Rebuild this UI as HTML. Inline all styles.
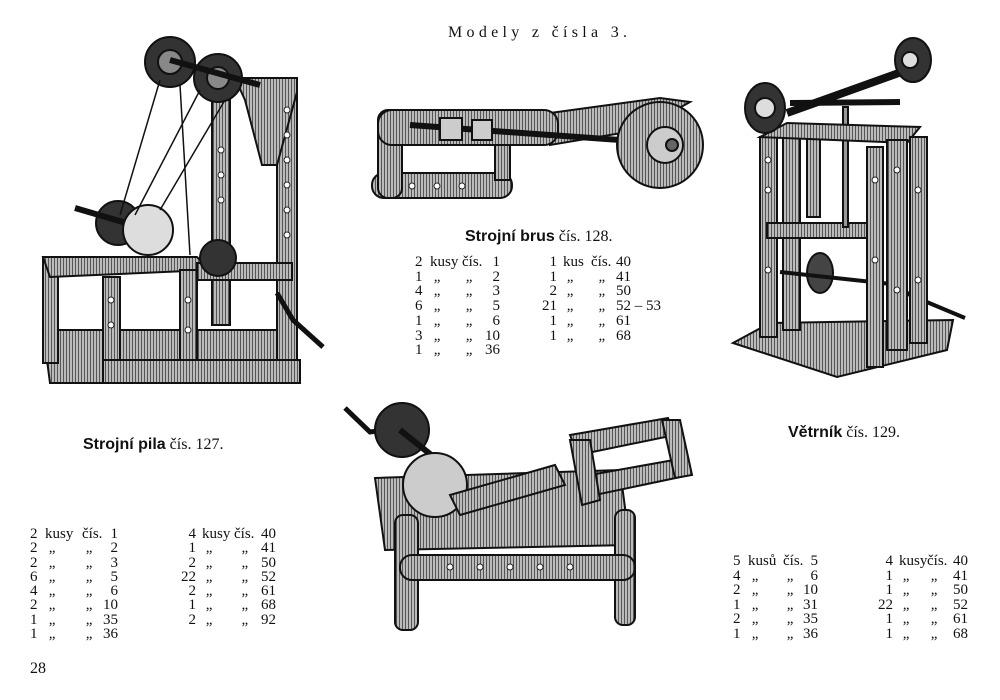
<!DOCTYPE html>
<html><head><meta charset="utf-8"><style>
html,body{margin:0;padding:0;background:#fff}
#p{position:relative;width:1000px;height:700px;overflow:hidden;background:#fff;font-family:"Liberation Serif",serif;color:#111}
.t{position:absolute;font-size:15px;line-height:15px;white-space:nowrap}
.r{text-align:right}
svg{position:absolute;left:0;top:0}
</style></head><body><div id="p">
<svg width="1000" height="700" viewBox="0 0 1000 700">
<defs>
<pattern id="h" width="3" height="3" patternUnits="userSpaceOnUse"><rect width="3" height="3" fill="#bbb"/><rect width="1" height="3" fill="#555"/></pattern>
</defs>
<g stroke="#111" stroke-width="2" fill="url(#h)">
<polygon points="43,330 293,330 300,383 50,383"/>
<rect x="43" y="257" width="15" height="106"/>
<polygon points="43,257 197,257 210,270 50,277"/>
<rect x="212" y="100" width="18" height="225"/>
<rect x="277" y="80" width="20" height="290"/>
<polygon points="235,78 297,78 297,92 277,165 262,165 245,100"/>
<rect x="197" y="263" width="95" height="17"/>
<rect x="103" y="277" width="17" height="106"/>
<rect x="180" y="270" width="17" height="107"/>
<rect x="103" y="360" width="197" height="23"/>
<circle cx="170" cy="62" r="25" fill="#333"/><circle cx="170" cy="62" r="12" fill="#888"/>
<circle cx="218" cy="78" r="24" fill="#333"/><circle cx="218" cy="78" r="11" fill="#888"/>
<line x1="170" y1="60" x2="260" y2="85" stroke-width="6"/>
<circle cx="118" cy="223" r="22" fill="#333"/>
<line x1="75" y1="208" x2="150" y2="230" stroke-width="6"/>
<circle cx="148" cy="230" r="25" fill="#ddd"/>
<circle cx="218" cy="258" r="18" fill="#333"/>
<polyline points="277,293 293,320 323,347" fill="none" stroke-width="5"/>
<g stroke-width="1.5" fill="none"><line x1="160" y1="80" x2="120" y2="215"/><line x1="180" y1="85" x2="190" y2="255"/><line x1="225" y1="100" x2="160" y2="210"/><line x1="200" y1="90" x2="135" y2="215"/></g>
<rect x="372" y="173" width="140" height="25" rx="12"/>
<rect x="378" y="110" width="24" height="88" rx="10"/>
<rect x="495" y="130" width="15" height="50"/>
<polygon points="550,113 660,98 690,102 640,130 550,145"/>
<rect x="378" y="110" width="180" height="35" rx="14"/>
<line x1="410" y1="125" x2="620" y2="140" stroke-width="6"/>
<rect x="440" y="118" width="22" height="22" fill="#ccc"/><rect x="472" y="120" width="20" height="20" fill="#ccc"/>
<circle cx="660" cy="145" r="43"/><circle cx="665" cy="145" r="18" fill="#ccc"/><circle cx="672" cy="145" r="6" fill="#666"/>
<polygon points="733,343 770,323 953,320 947,350 837,377"/>
<rect x="760" y="137" width="17" height="200"/>
<rect x="783" y="137" width="17" height="193"/>
<rect x="807" y="137" width="13" height="80"/>
<polygon points="767,223 880,223 880,238 767,238"/>
<rect x="843" y="107" width="5" height="120" fill="#999"/>
<polygon points="760,137 787,123 920,127 907,143"/>
<line x1="787" y1="113" x2="907" y2="70" stroke-width="8"/>
<line x1="790" y1="103" x2="900" y2="102" stroke-width="6"/>
<ellipse cx="765" cy="108" rx="20" ry="25" fill="#333"/><circle cx="765" cy="108" r="10" fill="#ddd"/>
<ellipse cx="913" cy="60" rx="18" ry="22" fill="#333"/><circle cx="910" cy="60" r="8" fill="#ddd"/>
<ellipse cx="820" cy="273" rx="13" ry="20" fill="#444"/>
<line x1="780" y1="272" x2="900" y2="285" stroke-width="4"/>
<polyline points="895,283 910,295 965,318" fill="none" stroke-width="4"/>
<rect x="867" y="147" width="16" height="220"/>
<rect x="887" y="140" width="20" height="210"/>
<rect x="910" y="137" width="17" height="206"/>
<polygon points="375,478 620,470 630,545 385,550"/>
<rect x="395" y="515" width="23" height="115" rx="8"/>
<rect x="615" y="510" width="20" height="115" rx="8"/>
<rect x="400" y="555" width="235" height="25" rx="12"/>
<polyline points="345,408 370,432 385,430" fill="none" stroke-width="5"/>
<circle cx="402" cy="430" r="27" fill="#333"/>
<line x1="400" y1="430" x2="450" y2="470" stroke-width="6"/>
<circle cx="435" cy="485" r="32" fill="#ccc"/>
<polygon points="450,495 555,465 565,485 460,515"/>
<polygon points="570,435 668,418 675,435 578,455"/>
<polygon points="590,475 685,458 690,475 595,495"/>
<polygon points="662,420 680,420 692,475 675,478"/>
<polygon points="570,440 590,440 600,500 582,505"/>
</g>
<g fill="#fff" stroke="#222" stroke-width="1">
<circle cx="287" cy="110" r="3"/><circle cx="287" cy="135" r="3"/><circle cx="287" cy="160" r="3"/><circle cx="287" cy="185" r="3"/><circle cx="287" cy="210" r="3"/><circle cx="287" cy="235" r="3"/>
<circle cx="221" cy="150" r="3"/><circle cx="221" cy="175" r="3"/><circle cx="221" cy="200" r="3"/>
<circle cx="111" cy="300" r="3"/><circle cx="111" cy="325" r="3"/><circle cx="188" cy="300" r="3"/><circle cx="188" cy="330" r="3"/>
<circle cx="412" cy="186" r="3"/><circle cx="437" cy="186" r="3"/><circle cx="462" cy="186" r="3"/>
<circle cx="768" cy="160" r="3"/><circle cx="768" cy="190" r="3"/><circle cx="768" cy="270" r="3"/><circle cx="875" cy="180" r="3"/><circle cx="875" cy="260" r="3"/><circle cx="897" cy="170" r="3"/><circle cx="897" cy="290" r="3"/><circle cx="918" cy="190" r="3"/><circle cx="918" cy="280" r="3"/>
<circle cx="450" cy="567" r="3"/><circle cx="480" cy="567" r="3"/><circle cx="510" cy="567" r="3"/><circle cx="540" cy="567" r="3"/><circle cx="570" cy="567" r="3"/>
</g>
</svg>
<div class="t" style="left:448px;top:25px;font-size:16px;letter-spacing:4.3px">Modely z čísla 3.</div>
<div class="t" style="left:465px;top:229px;font-size:16px"><b style="font-family:'Liberation Sans',sans-serif">Strojní brus</b> čís. 128.</div>
<div class="t" style="left:83px;top:437px;font-size:16px"><b style="font-family:'Liberation Sans',sans-serif">Strojní pila</b> čís. 127.</div>
<div class="t" style="left:788px;top:425px;font-size:16px"><b style="font-family:'Liberation Sans',sans-serif">Větrník</b> čís. 129.</div>
<div class="t" style="left:30px;top:661px;font-size:16px">28</div>

<div class="t" style="left:415px;top:255px;line-height:14.7px">2<br>1<br>4<br>6<br>1<br>3<br>1</div>
<div class="t" style="left:430px;top:255px;line-height:14.7px">kusy<br>&nbsp;„<br>&nbsp;„<br>&nbsp;„<br>&nbsp;„<br>&nbsp;„<br>&nbsp;„</div>
<div class="t" style="left:462px;top:255px;line-height:14.7px">čís.<br>&nbsp;„<br>&nbsp;„<br>&nbsp;„<br>&nbsp;„<br>&nbsp;„<br>&nbsp;„</div>
<div class="t r" style="left:470px;width:30px;top:255px;line-height:14.7px">1<br>2<br>3<br>5<br>6<br>10<br>36</div>
<div class="t r" style="left:530px;width:27px;top:255px;line-height:14.7px">1<br>1<br>2<br>21<br>1<br>1</div>
<div class="t" style="left:563px;top:255px;line-height:14.7px">kus<br>&nbsp;„<br>&nbsp;„<br>&nbsp;„<br>&nbsp;„<br>&nbsp;„</div>
<div class="t" style="left:591px;top:255px;line-height:14.7px">čís.<br>&nbsp;&nbsp;„<br>&nbsp;&nbsp;„<br>&nbsp;&nbsp;„<br>&nbsp;&nbsp;„<br>&nbsp;&nbsp;„</div>
<div class="t" style="left:616px;top:255px;line-height:14.7px">40<br>41<br>50<br>52 – 53<br>61<br>68</div>

<div class="t" style="left:30px;top:527px;line-height:14.3px">2<br>2<br>2<br>6<br>4<br>2<br>1<br>1</div>
<div class="t" style="left:45px;top:527px;line-height:14.3px">kusy<br>&nbsp;„<br>&nbsp;„<br>&nbsp;„<br>&nbsp;„<br>&nbsp;„<br>&nbsp;„<br>&nbsp;„</div>
<div class="t" style="left:82px;top:527px;line-height:14.3px">čís.<br>&nbsp;„<br>&nbsp;„<br>&nbsp;„<br>&nbsp;„<br>&nbsp;„<br>&nbsp;„<br>&nbsp;„</div>
<div class="t r" style="left:88px;width:30px;top:527px;line-height:14.3px">1<br>2<br>3<br>5<br>6<br>10<br>35<br>36</div>
<div class="t r" style="left:166px;width:30px;top:527px;line-height:14.3px">4<br>1<br>2<br>22<br>2<br>1<br>2</div>
<div class="t" style="left:202px;top:527px;line-height:14.3px">kusy<br>&nbsp;„<br>&nbsp;„<br>&nbsp;„<br>&nbsp;„<br>&nbsp;„<br>&nbsp;„</div>
<div class="t" style="left:234px;top:527px;line-height:14.3px">čís.<br>&nbsp;&nbsp;„<br>&nbsp;&nbsp;„<br>&nbsp;&nbsp;„<br>&nbsp;&nbsp;„<br>&nbsp;&nbsp;„<br>&nbsp;&nbsp;„</div>
<div class="t" style="left:261px;top:527px;line-height:14.3px">40<br>41<br>50<br>52<br>61<br>68<br>92</div>

<div class="t" style="left:733px;top:554px;line-height:14.5px">5<br>4<br>2<br>1<br>2<br>1</div>
<div class="t" style="left:748px;top:554px;line-height:14.5px">kusů<br>&nbsp;„<br>&nbsp;„<br>&nbsp;„<br>&nbsp;„<br>&nbsp;„</div>
<div class="t" style="left:783px;top:554px;line-height:14.5px">čís.<br>&nbsp;„<br>&nbsp;„<br>&nbsp;„<br>&nbsp;„<br>&nbsp;„</div>
<div class="t r" style="left:788px;width:30px;top:554px;line-height:14.5px">5<br>6<br>10<br>31<br>35<br>36</div>
<div class="t r" style="left:863px;width:30px;top:554px;line-height:14.5px">4<br>1<br>1<br>22<br>1<br>1</div>
<div class="t" style="left:899px;top:554px;line-height:14.5px">kusy<br>&nbsp;„<br>&nbsp;„<br>&nbsp;„<br>&nbsp;„<br>&nbsp;„</div>
<div class="t" style="left:927px;top:554px;line-height:14.5px">čís.<br>&nbsp;„<br>&nbsp;„<br>&nbsp;„<br>&nbsp;„<br>&nbsp;„</div>
<div class="t" style="left:953px;top:554px;line-height:14.5px">40<br>41<br>50<br>52<br>61<br>68</div>
</div></body></html>
